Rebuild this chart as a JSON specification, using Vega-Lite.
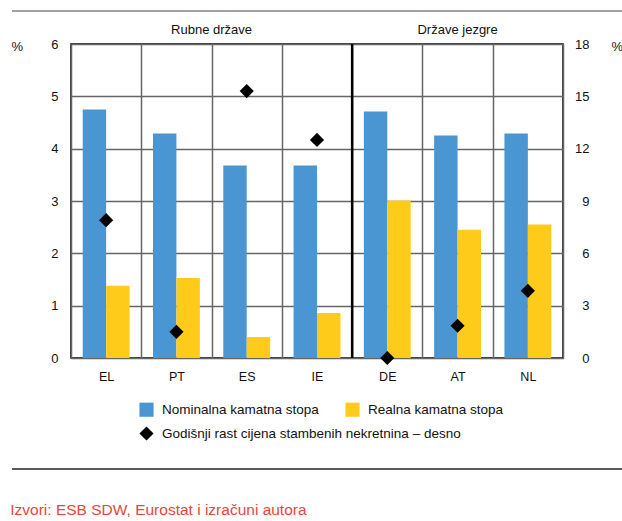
{
  "$schema": "https://vega.github.io/schema/vega-lite/v6.json",
  "padding": {"left": 10, "top": 10, "right": 0, "bottom": 0},
  "background": "white",
  "config": {
    "font": "Liberation Sans"
  },
  "title": {
    "text": "Izvori: ESB SDW, Eurostat i izračuni autora",
    "orient": "bottom",
    "anchor": "start",
    "frame": "bounds",
    "font": "Liberation Sans",
    "fontSize": 15.5,
    "fontWeight": "normal",
    "color": "#e8463c",
    "offset": 33
  },
  "datasets": {
    "bars": [
      {"country": "EL", "type": "Nominalna kamatna stopa", "value": 4.75},
      {"country": "EL", "type": "Realna kamatna stopa", "value": 1.38},
      {"country": "PT", "type": "Nominalna kamatna stopa", "value": 4.29},
      {"country": "PT", "type": "Realna kamatna stopa", "value": 1.53},
      {"country": "ES", "type": "Nominalna kamatna stopa", "value": 3.68},
      {"country": "ES", "type": "Realna kamatna stopa", "value": 0.40},
      {"country": "IE", "type": "Nominalna kamatna stopa", "value": 3.68},
      {"country": "IE", "type": "Realna kamatna stopa", "value": 0.86},
      {"country": "DE", "type": "Nominalna kamatna stopa", "value": 4.71},
      {"country": "DE", "type": "Realna kamatna stopa", "value": 3.01},
      {"country": "AT", "type": "Nominalna kamatna stopa", "value": 4.25},
      {"country": "AT", "type": "Realna kamatna stopa", "value": 2.45},
      {"country": "NL", "type": "Nominalna kamatna stopa", "value": 4.29},
      {"country": "NL", "type": "Realna kamatna stopa", "value": 2.55}
    ],
    "points": [
      {"country": "EL", "type": "Godišnji rast cijena stambenih nekretnina – desno", "price": 7.9},
      {"country": "PT", "type": "Godišnji rast cijena stambenih nekretnina – desno", "price": 1.5},
      {"country": "ES", "type": "Godišnji rast cijena stambenih nekretnina – desno", "price": 15.3},
      {"country": "IE", "type": "Godišnji rast cijena stambenih nekretnina – desno", "price": 12.5},
      {"country": "DE", "type": "Godišnji rast cijena stambenih nekretnina – desno", "price": 0.0},
      {"country": "AT", "type": "Godišnji rast cijena stambenih nekretnina – desno", "price": 1.85},
      {"country": "NL", "type": "Godišnji rast cijena stambenih nekretnina – desno", "price": 3.85}
    ]
  },
  "columns": 1,
  "spacing": 11,
  "resolve": {
    "scale": {"color": "independent", "shape": "independent"},
    "legend": {"color": "independent", "shape": "independent"}
  },
  "concat": [
    {
      "width": 612,
      "height": 1,
      "view": {"stroke": null},
      "data": {"values": [{"r": 1}]},
      "mark": {"type": "rule", "color": "#808080", "strokeWidth": 1.5},
      "encoding": {
        "y": {"field": "r", "type": "quantitative", "scale": {"domain": [0, 1]}, "axis": null}
      }
    },
    {
      "spacing": -3,
      "resolve": {
        "scale": {"color": "independent", "shape": "independent"},
        "legend": {"color": "independent", "shape": "independent"}
      },
      "hconcat": [
        {
          "width": 1,
          "height": 314,
          "view": {"stroke": null},
          "data": {"values": []},
          "mark": {"type": "point", "opacity": 0},
          "encoding": {}
        },
        {
          "width": 492,
          "height": 314,
          "view": {"stroke": "#000", "strokeWidth": 1.5},
          "layer": [
            {
              "data": {"name": "bars"},
              "mark": {"type": "bar"},
              "encoding": {
                "x": {
                  "field": "country", "type": "nominal",
                  "sort": ["EL", "PT", "ES", "IE", "DE", "AT", "NL"],
                  "scale": {"domain": ["EL", "PT", "ES", "IE", "DE", "AT", "NL"], "paddingInner": 0, "paddingOuter": 0},
                  "axis": {
                    "title": null, "labelAngle": 0, "ticks": false, "domain": false,
                    "tickBand": "extent", "grid": true, "gridColor": "#666", "gridWidth": 1.5,
                    "labelFontSize": 12.5, "labelColor": "#111", "labelPadding": 12
                  }
                },
                "xOffset": {
                  "field": "type", "type": "nominal",
                  "sort": ["Nominalna kamatna stopa", "Realna kamatna stopa"],
                  "scale": {"paddingInner": 0, "paddingOuter": 0.5}
                },
                "y": {
                  "field": "value", "type": "quantitative",
                  "scale": {"domain": [0, 6], "nice": false},
                  "axis": {
                    "title": "%", "titleAngle": 0, "titleAlign": "left", "titleBaseline": "middle",
                    "titleX": -60, "titleY": 2, "titleFontSize": 13, "titleFontWeight": "normal", "titleColor": "#111",
                    "values": [0, 1, 2, 3, 4, 5, 6], "ticks": false, "domain": false,
                    "grid": true, "gridColor": "#666", "gridWidth": 1.5,
                    "labelFontSize": 13, "labelColor": "#111", "labelPadding": 13
                  }
                },
                "color": {
                  "field": "type", "type": "nominal",
                  "scale": {
                    "domain": ["Nominalna kamatna stopa", "Realna kamatna stopa"],
                    "range": ["#4a96d2", "#fecb1b"]
                  },
                  "legend": {
                    "title": null, "orient": "none", "legendX": 68, "legendY": 358,
                    "direction": "horizontal", "columnPadding": 26,
                    "symbolType": "square", "symbolSize": 200, "symbolStrokeWidth": 0, "labelFontSize": 13.5, "labelColor": "#111",
                    "labelOffset": 8, "padding": 0, "labelLimit": 400
                  }
                }
              }
            },
            {
              "data": {"name": "points"},
              "mark": {"type": "point", "filled": true, "opacity": 1, "size": 200, "color": "#000"},
              "encoding": {
                "x": {"field": "country", "type": "nominal", "sort": ["EL", "PT", "ES", "IE", "DE", "AT", "NL"]},
                "y": {
                  "field": "price", "type": "quantitative",
                  "scale": {"domain": [0, 18], "nice": false},
                  "axis": {
                    "orient": "right",
                    "title": "%", "titleAngle": 0, "titleAlign": "left", "titleBaseline": "middle",
                    "titleX": 48, "titleY": 2, "titleFontSize": 13, "titleFontWeight": "normal", "titleColor": "#111",
                    "values": [0, 3, 6, 9, 12, 15, 18], "ticks": false, "domain": false, "grid": false,
                    "labelFontSize": 13, "labelColor": "#111", "labelPadding": 26, "labelAlign": "right"
                  }
                },
                "shape": {
                  "field": "type", "type": "nominal",
                  "scale": {
                    "domain": ["Godišnji rast cijena stambenih nekretnina – desno"],
                    "range": ["diamond"]
                  },
                  "legend": {
                    "title": null, "orient": "none", "legendX": 68, "legendY": 382,
                    "symbolSize": 200, "symbolFillColor": "#000", "symbolStrokeWidth": 0,
                    "labelFontSize": 13.5, "labelColor": "#111", "labelOffset": 8, "padding": 0, "labelLimit": 400
                  }
                }
              }
            },
            {
              "data": {"values": [{"country": "DE"}]},
              "mark": {"type": "rule", "color": "#000", "strokeWidth": 2.5},
              "encoding": {
                "x": {"field": "country", "type": "nominal", "sort": ["EL", "PT", "ES", "IE", "DE", "AT", "NL"], "bandPosition": 0}
              }
            },
            {
              "data": {"values": [{"country": "ES", "label": "Rubne države"}]},
              "mark": {"type": "text", "fontSize": 13, "color": "#111", "baseline": "alphabetic", "dy": -10},
              "encoding": {
                "x": {"field": "country", "type": "nominal", "sort": ["EL", "PT", "ES", "IE", "DE", "AT", "NL"], "bandPosition": 0},
                "y": {"datum": 6, "type": "quantitative", "scale": {"domain": [0, 6], "nice": false}, "axis": null},
                "text": {"field": "label"}
              }
            },
            {
              "data": {"values": [{"country": "AT", "label": "Države jezgre"}]},
              "mark": {"type": "text", "fontSize": 13, "color": "#111", "baseline": "alphabetic", "dy": -10},
              "encoding": {
                "x": {"field": "country", "type": "nominal", "sort": ["EL", "PT", "ES", "IE", "DE", "AT", "NL"], "bandPosition": 0.5},
                "y": {"datum": 6, "type": "quantitative", "scale": {"domain": [0, 6], "nice": false}, "axis": null},
                "text": {"field": "label"}
              }
            }
          ],
          "resolve": {"scale": {"y": "independent"}}
        }
      ]
    },
    {
      "width": 612,
      "height": 16,
      "view": {"stroke": null},
      "data": {"values": [{"r": 0}]},
      "mark": {"type": "rule", "color": "#222", "strokeWidth": 1.5},
      "encoding": {
        "y": {"field": "r", "type": "quantitative", "scale": {"domain": [0, 1]}, "axis": null}
      }
    }
  ]
}
